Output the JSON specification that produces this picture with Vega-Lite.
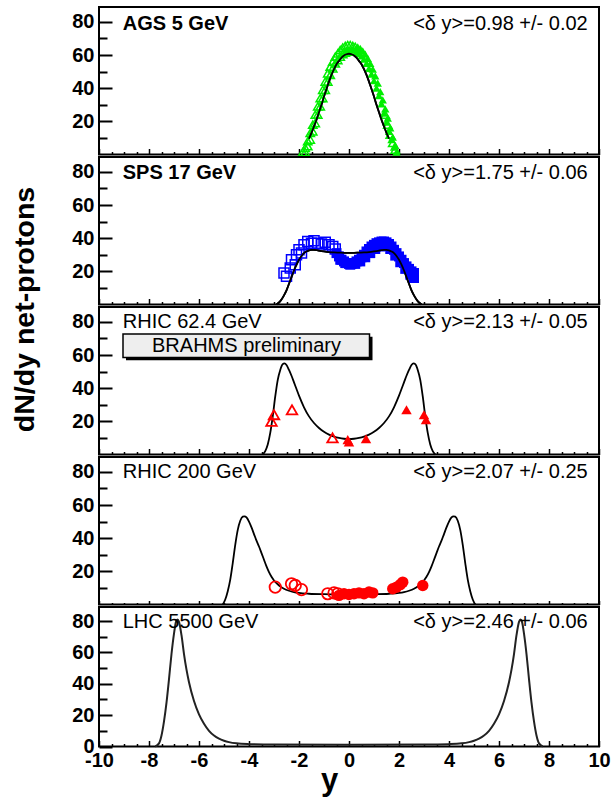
{
  "$schema": "https://vega.github.io/schema/vega-lite/v6.json",
  "background": "white",
  "padding": {"left": 8, "top": 6, "right": 5, "bottom": 2},
  "bounds": "flush",
  "spacing": 2,
  "config": {
    "font": "Liberation Sans",
    "view": {"stroke": "black", "strokeWidth": 2},
    "axis": {"labelFont": "Liberation Sans", "labelFontSize": 20, "labelFontWeight": "bold", "labelColor": "black", "labelOverlap": false, "labelBound": false, "tickCount": 200, "tickColor": "black", "tickWidth": 2, "domain": false, "grid": false, "titleColor": "black", "titleFont": "Liberation Sans"}
  },
  "datasets": {
    "labels": [
      {"panel": "AGS", "left": "AGS 5 GeV", "right": "<δ y>=0.98 +/- 0.02"},
      {"panel": "SPS", "left": "SPS 17 GeV", "right": "<δ y>=1.75 +/- 0.06"},
      {"panel": "R62", "left": "RHIC 62.4 GeV", "right": "<δ y>=2.13 +/- 0.05"},
      {"panel": "R200", "left": "RHIC 200 GeV", "right": "<δ y>=2.07 +/- 0.25"},
      {"panel": "LHC", "left": "LHC 5500 GeV", "right": "<δ y>=2.46 +/- 0.06"}
    ],
    "curves": [
      {"panel": "AGS", "x": -1.6, "y": 9.5}, {"panel": "AGS", "x": -1.5, "y": 13}, {"panel": "AGS", "x": -1.4, "y": 17}, {"panel": "AGS", "x": -1.3, "y": 21}, {"panel": "AGS", "x": -1.2, "y": 25.5}, {"panel": "AGS", "x": -1.1, "y": 30}, {"panel": "AGS", "x": -1.0, "y": 35}, {"panel": "AGS", "x": -0.9, "y": 39.5}, {"panel": "AGS", "x": -0.8, "y": 44}, {"panel": "AGS", "x": -0.7, "y": 48}, {"panel": "AGS", "x": -0.6, "y": 51.5}, {"panel": "AGS", "x": -0.5, "y": 54.5}, {"panel": "AGS", "x": -0.4, "y": 56.5}, {"panel": "AGS", "x": -0.3, "y": 58.5}, {"panel": "AGS", "x": -0.2, "y": 59.8}, {"panel": "AGS", "x": -0.1, "y": 60.5}, {"panel": "AGS", "x": 0, "y": 60.8},
      {"panel": "AGS", "x": 0.1, "y": 60.5}, {"panel": "AGS", "x": 0.2, "y": 59.8}, {"panel": "AGS", "x": 0.3, "y": 58.5}, {"panel": "AGS", "x": 0.4, "y": 56.5}, {"panel": "AGS", "x": 0.5, "y": 54.5}, {"panel": "AGS", "x": 0.6, "y": 51.5}, {"panel": "AGS", "x": 0.7, "y": 48}, {"panel": "AGS", "x": 0.8, "y": 44}, {"panel": "AGS", "x": 0.9, "y": 39.5}, {"panel": "AGS", "x": 1.0, "y": 35}, {"panel": "AGS", "x": 1.1, "y": 30}, {"panel": "AGS", "x": 1.2, "y": 25.5}, {"panel": "AGS", "x": 1.3, "y": 21}, {"panel": "AGS", "x": 1.4, "y": 17}, {"panel": "AGS", "x": 1.5, "y": 13}, {"panel": "AGS", "x": 1.6, "y": 9.5},

      {"panel": "SPS", "x": -2.9, "y": 0}, {"panel": "SPS", "x": -2.8, "y": 1.2}, {"panel": "SPS", "x": -2.7, "y": 3}, {"panel": "SPS", "x": -2.6, "y": 5.5}, {"panel": "SPS", "x": -2.5, "y": 8.5}, {"panel": "SPS", "x": -2.4, "y": 12.5}, {"panel": "SPS", "x": -2.3, "y": 16.5}, {"panel": "SPS", "x": -2.2, "y": 20.5}, {"panel": "SPS", "x": -2.1, "y": 24}, {"panel": "SPS", "x": -2.0, "y": 27}, {"panel": "SPS", "x": -1.9, "y": 29.3}, {"panel": "SPS", "x": -1.8, "y": 31}, {"panel": "SPS", "x": -1.7, "y": 32}, {"panel": "SPS", "x": -1.6, "y": 32.7}, {"panel": "SPS", "x": -1.5, "y": 33}, {"panel": "SPS", "x": -1.4, "y": 33}, {"panel": "SPS", "x": -1.3, "y": 32.8}, {"panel": "SPS", "x": -1.2, "y": 32.5}, {"panel": "SPS", "x": -1.0, "y": 32}, {"panel": "SPS", "x": -0.8, "y": 31.6}, {"panel": "SPS", "x": -0.6, "y": 31.4}, {"panel": "SPS", "x": -0.4, "y": 31.3}, {"panel": "SPS", "x": -0.2, "y": 31.2}, {"panel": "SPS", "x": 0, "y": 31.2},
      {"panel": "SPS", "x": 0.2, "y": 31.2}, {"panel": "SPS", "x": 0.4, "y": 31.3}, {"panel": "SPS", "x": 0.6, "y": 31.4}, {"panel": "SPS", "x": 0.8, "y": 31.6}, {"panel": "SPS", "x": 1.0, "y": 32}, {"panel": "SPS", "x": 1.2, "y": 32.5}, {"panel": "SPS", "x": 1.3, "y": 32.8}, {"panel": "SPS", "x": 1.4, "y": 33}, {"panel": "SPS", "x": 1.5, "y": 33}, {"panel": "SPS", "x": 1.6, "y": 32.7}, {"panel": "SPS", "x": 1.7, "y": 32}, {"panel": "SPS", "x": 1.8, "y": 31}, {"panel": "SPS", "x": 1.9, "y": 29.3}, {"panel": "SPS", "x": 2.0, "y": 27}, {"panel": "SPS", "x": 2.1, "y": 24}, {"panel": "SPS", "x": 2.2, "y": 20.5}, {"panel": "SPS", "x": 2.3, "y": 16.5}, {"panel": "SPS", "x": 2.4, "y": 12.5}, {"panel": "SPS", "x": 2.5, "y": 8.5}, {"panel": "SPS", "x": 2.6, "y": 5.5}, {"panel": "SPS", "x": 2.7, "y": 3}, {"panel": "SPS", "x": 2.8, "y": 1.2}, {"panel": "SPS", "x": 2.9, "y": 0},

      {"panel": "R62", "x": -3.45, "y": 0}, {"panel": "R62", "x": -3.35, "y": 2}, {"panel": "R62", "x": -3.25, "y": 6}, {"panel": "R62", "x": -3.15, "y": 13}, {"panel": "R62", "x": -3.05, "y": 23}, {"panel": "R62", "x": -2.95, "y": 35}, {"panel": "R62", "x": -2.85, "y": 45}, {"panel": "R62", "x": -2.75, "y": 51}, {"panel": "R62", "x": -2.65, "y": 54.5}, {"panel": "R62", "x": -2.58, "y": 55}, {"panel": "R62", "x": -2.5, "y": 54}, {"panel": "R62", "x": -2.4, "y": 51}, {"panel": "R62", "x": -2.3, "y": 47.5}, {"panel": "R62", "x": -2.2, "y": 43.5}, {"panel": "R62", "x": -2.1, "y": 39.5}, {"panel": "R62", "x": -2.0, "y": 35.5}, {"panel": "R62", "x": -1.8, "y": 28.5}, {"panel": "R62", "x": -1.6, "y": 23}, {"panel": "R62", "x": -1.4, "y": 19}, {"panel": "R62", "x": -1.2, "y": 16}, {"panel": "R62", "x": -1.0, "y": 13.7}, {"panel": "R62", "x": -0.8, "y": 12}, {"panel": "R62", "x": -0.6, "y": 10.8}, {"panel": "R62", "x": -0.4, "y": 10}, {"panel": "R62", "x": -0.2, "y": 9.5}, {"panel": "R62", "x": 0, "y": 9.3},
      {"panel": "R62", "x": 0.2, "y": 9.5}, {"panel": "R62", "x": 0.4, "y": 10}, {"panel": "R62", "x": 0.6, "y": 10.8}, {"panel": "R62", "x": 0.8, "y": 12}, {"panel": "R62", "x": 1.0, "y": 13.7}, {"panel": "R62", "x": 1.2, "y": 16}, {"panel": "R62", "x": 1.4, "y": 19}, {"panel": "R62", "x": 1.6, "y": 23}, {"panel": "R62", "x": 1.8, "y": 28.5}, {"panel": "R62", "x": 2.0, "y": 35.5}, {"panel": "R62", "x": 2.1, "y": 39.5}, {"panel": "R62", "x": 2.2, "y": 43.5}, {"panel": "R62", "x": 2.3, "y": 47.5}, {"panel": "R62", "x": 2.4, "y": 51}, {"panel": "R62", "x": 2.5, "y": 54}, {"panel": "R62", "x": 2.58, "y": 55}, {"panel": "R62", "x": 2.65, "y": 54.5}, {"panel": "R62", "x": 2.75, "y": 51}, {"panel": "R62", "x": 2.85, "y": 45}, {"panel": "R62", "x": 2.95, "y": 35}, {"panel": "R62", "x": 3.05, "y": 23}, {"panel": "R62", "x": 3.15, "y": 13}, {"panel": "R62", "x": 3.25, "y": 6}, {"panel": "R62", "x": 3.35, "y": 2}, {"panel": "R62", "x": 3.45, "y": 0},

      {"panel": "R200", "x": -5.05, "y": 0}, {"panel": "R200", "x": -4.95, "y": 3}, {"panel": "R200", "x": -4.85, "y": 8}, {"panel": "R200", "x": -4.75, "y": 15}, {"panel": "R200", "x": -4.65, "y": 25}, {"panel": "R200", "x": -4.55, "y": 36}, {"panel": "R200", "x": -4.45, "y": 45}, {"panel": "R200", "x": -4.35, "y": 50.5}, {"panel": "R200", "x": -4.25, "y": 53}, {"panel": "R200", "x": -4.18, "y": 53.2}, {"panel": "R200", "x": -4.1, "y": 52.5}, {"panel": "R200", "x": -4.0, "y": 50}, {"panel": "R200", "x": -3.9, "y": 46.5}, {"panel": "R200", "x": -3.8, "y": 42.5}, {"panel": "R200", "x": -3.7, "y": 38.5}, {"panel": "R200", "x": -3.6, "y": 35}, {"panel": "R200", "x": -3.5, "y": 31}, {"panel": "R200", "x": -3.4, "y": 27}, {"panel": "R200", "x": -3.3, "y": 23}, {"panel": "R200", "x": -3.2, "y": 19.5}, {"panel": "R200", "x": -3.1, "y": 16.7}, {"panel": "R200", "x": -3.0, "y": 14.5}, {"panel": "R200", "x": -2.8, "y": 11.5}, {"panel": "R200", "x": -2.6, "y": 9.5}, {"panel": "R200", "x": -2.4, "y": 8.3}, {"panel": "R200", "x": -2.2, "y": 7.5}, {"panel": "R200", "x": -2.0, "y": 7}, {"panel": "R200", "x": -1.6, "y": 6.5}, {"panel": "R200", "x": -1.0, "y": 6.2}, {"panel": "R200", "x": -0.5, "y": 6.1}, {"panel": "R200", "x": 0, "y": 6},
      {"panel": "R200", "x": 0.5, "y": 6.1}, {"panel": "R200", "x": 1.0, "y": 6.2}, {"panel": "R200", "x": 1.6, "y": 6.5}, {"panel": "R200", "x": 2.0, "y": 7}, {"panel": "R200", "x": 2.2, "y": 7.5}, {"panel": "R200", "x": 2.4, "y": 8.3}, {"panel": "R200", "x": 2.6, "y": 9.5}, {"panel": "R200", "x": 2.8, "y": 11.5}, {"panel": "R200", "x": 3.0, "y": 14.5}, {"panel": "R200", "x": 3.1, "y": 16.7}, {"panel": "R200", "x": 3.2, "y": 19.5}, {"panel": "R200", "x": 3.3, "y": 23}, {"panel": "R200", "x": 3.4, "y": 27}, {"panel": "R200", "x": 3.5, "y": 31}, {"panel": "R200", "x": 3.6, "y": 35}, {"panel": "R200", "x": 3.7, "y": 38.5}, {"panel": "R200", "x": 3.8, "y": 42.5}, {"panel": "R200", "x": 3.9, "y": 46.5}, {"panel": "R200", "x": 4.0, "y": 50}, {"panel": "R200", "x": 4.1, "y": 52.5}, {"panel": "R200", "x": 4.18, "y": 53.2}, {"panel": "R200", "x": 4.25, "y": 53}, {"panel": "R200", "x": 4.35, "y": 50.5}, {"panel": "R200", "x": 4.45, "y": 45}, {"panel": "R200", "x": 4.55, "y": 36}, {"panel": "R200", "x": 4.65, "y": 25}, {"panel": "R200", "x": 4.75, "y": 15}, {"panel": "R200", "x": 4.85, "y": 8}, {"panel": "R200", "x": 4.95, "y": 3}, {"panel": "R200", "x": 5.05, "y": 0},

      {"panel": "LHC", "x": -7.75, "y": 0}, {"panel": "LHC", "x": -7.6, "y": 2}, {"panel": "LHC", "x": -7.5, "y": 7}, {"panel": "LHC", "x": -7.4, "y": 16}, {"panel": "LHC", "x": -7.3, "y": 28}, {"panel": "LHC", "x": -7.2, "y": 43}, {"panel": "LHC", "x": -7.1, "y": 59}, {"panel": "LHC", "x": -7.0, "y": 72}, {"panel": "LHC", "x": -6.92, "y": 79.5}, {"panel": "LHC", "x": -6.86, "y": 81}, {"panel": "LHC", "x": -6.8, "y": 79.5}, {"panel": "LHC", "x": -6.7, "y": 71}, {"panel": "LHC", "x": -6.6, "y": 59}, {"panel": "LHC", "x": -6.5, "y": 49}, {"panel": "LHC", "x": -6.4, "y": 41}, {"panel": "LHC", "x": -6.2, "y": 29}, {"panel": "LHC", "x": -6.0, "y": 20.5}, {"panel": "LHC", "x": -5.8, "y": 14.5}, {"panel": "LHC", "x": -5.6, "y": 10}, {"panel": "LHC", "x": -5.4, "y": 7}, {"panel": "LHC", "x": -5.2, "y": 5}, {"panel": "LHC", "x": -5.0, "y": 3.7}, {"panel": "LHC", "x": -4.8, "y": 2.8}, {"panel": "LHC", "x": -4.5, "y": 2}, {"panel": "LHC", "x": -4.0, "y": 1.5}, {"panel": "LHC", "x": -3.0, "y": 1.2}, {"panel": "LHC", "x": 0, "y": 1.1},
      {"panel": "LHC", "x": 3.0, "y": 1.2}, {"panel": "LHC", "x": 4.0, "y": 1.5}, {"panel": "LHC", "x": 4.5, "y": 2}, {"panel": "LHC", "x": 4.8, "y": 2.8}, {"panel": "LHC", "x": 5.0, "y": 3.7}, {"panel": "LHC", "x": 5.2, "y": 5}, {"panel": "LHC", "x": 5.4, "y": 7}, {"panel": "LHC", "x": 5.6, "y": 10}, {"panel": "LHC", "x": 5.8, "y": 14.5}, {"panel": "LHC", "x": 6.0, "y": 20.5}, {"panel": "LHC", "x": 6.2, "y": 29}, {"panel": "LHC", "x": 6.4, "y": 41}, {"panel": "LHC", "x": 6.5, "y": 49}, {"panel": "LHC", "x": 6.6, "y": 59}, {"panel": "LHC", "x": 6.7, "y": 71}, {"panel": "LHC", "x": 6.8, "y": 79.5}, {"panel": "LHC", "x": 6.86, "y": 81}, {"panel": "LHC", "x": 6.92, "y": 79.5}, {"panel": "LHC", "x": 7.0, "y": 72}, {"panel": "LHC", "x": 7.1, "y": 59}, {"panel": "LHC", "x": 7.2, "y": 43}, {"panel": "LHC", "x": 7.3, "y": 28}, {"panel": "LHC", "x": 7.4, "y": 16}, {"panel": "LHC", "x": 7.5, "y": 7}, {"panel": "LHC", "x": 7.6, "y": 2}, {"panel": "LHC", "x": 7.75, "y": 0}
    ],
    "points": [
      {"panel": "AGS", "kind": "open", "x": -1.85, "y": 1.5}, {"panel": "AGS", "kind": "open", "x": -1.75, "y": 4}, {"panel": "AGS", "kind": "open", "x": -1.65, "y": 8}, {"panel": "AGS", "kind": "open", "x": -1.55, "y": 13}, {"panel": "AGS", "kind": "open", "x": -1.45, "y": 18}, {"panel": "AGS", "kind": "open", "x": -1.35, "y": 24}, {"panel": "AGS", "kind": "open", "x": -1.25, "y": 29}, {"panel": "AGS", "kind": "open", "x": -1.15, "y": 34}, {"panel": "AGS", "kind": "open", "x": -1.05, "y": 39}, {"panel": "AGS", "kind": "open", "x": -0.95, "y": 44}, {"panel": "AGS", "kind": "open", "x": -0.85, "y": 49}, {"panel": "AGS", "kind": "open", "x": -0.75, "y": 53}, {"panel": "AGS", "kind": "open", "x": -0.65, "y": 56}, {"panel": "AGS", "kind": "open", "x": -0.55, "y": 59}, {"panel": "AGS", "kind": "open", "x": -0.45, "y": 61}, {"panel": "AGS", "kind": "open", "x": -0.35, "y": 63}, {"panel": "AGS", "kind": "open", "x": -0.25, "y": 64.5}, {"panel": "AGS", "kind": "open", "x": -0.15, "y": 65.5}, {"panel": "AGS", "kind": "open", "x": -0.05, "y": 66}, {"panel": "AGS", "kind": "open", "x": 0.05, "y": 66}, {"panel": "AGS", "kind": "open", "x": 0.15, "y": 65.5}, {"panel": "AGS", "kind": "open", "x": 0.25, "y": 65},
      {"panel": "AGS", "kind": "open", "x": -1.75, "y": 1.5}, {"panel": "AGS", "kind": "open", "x": -1.65, "y": 5}, {"panel": "AGS", "kind": "open", "x": -1.55, "y": 9}, {"panel": "AGS", "kind": "open", "x": -1.45, "y": 14}, {"panel": "AGS", "kind": "open", "x": -1.35, "y": 19}, {"panel": "AGS", "kind": "open", "x": -1.25, "y": 24}, {"panel": "AGS", "kind": "open", "x": -1.15, "y": 29}, {"panel": "AGS", "kind": "open", "x": -1.05, "y": 34}, {"panel": "AGS", "kind": "open", "x": -0.95, "y": 39}, {"panel": "AGS", "kind": "open", "x": -0.85, "y": 44}, {"panel": "AGS", "kind": "open", "x": -0.75, "y": 48}, {"panel": "AGS", "kind": "open", "x": -0.65, "y": 52}, {"panel": "AGS", "kind": "open", "x": -0.55, "y": 55}, {"panel": "AGS", "kind": "open", "x": -0.45, "y": 57}, {"panel": "AGS", "kind": "open", "x": -0.35, "y": 59}, {"panel": "AGS", "kind": "open", "x": -0.25, "y": 60.5}, {"panel": "AGS", "kind": "open", "x": -0.15, "y": 61.5}, {"panel": "AGS", "kind": "open", "x": -0.05, "y": 62},
      {"panel": "AGS", "kind": "open", "x": 1.45, "y": 24}, {"panel": "AGS", "kind": "open", "x": 1.55, "y": 18}, {"panel": "AGS", "kind": "open", "x": 1.65, "y": 12}, {"panel": "AGS", "kind": "open", "x": 1.75, "y": 7}, {"panel": "AGS", "kind": "open", "x": 1.85, "y": 3},
      {"panel": "AGS", "kind": "filled", "x": -0.1, "y": 63}, {"panel": "AGS", "kind": "filled", "x": 0, "y": 63.5}, {"panel": "AGS", "kind": "filled", "x": 0.1, "y": 63.5}, {"panel": "AGS", "kind": "filled", "x": 0.2, "y": 63}, {"panel": "AGS", "kind": "filled", "x": 0.3, "y": 62}, {"panel": "AGS", "kind": "filled", "x": 0.4, "y": 61}, {"panel": "AGS", "kind": "filled", "x": 0.5, "y": 59.5}, {"panel": "AGS", "kind": "filled", "x": 0.6, "y": 57.5}, {"panel": "AGS", "kind": "filled", "x": 0.7, "y": 55}, {"panel": "AGS", "kind": "filled", "x": 0.8, "y": 52}, {"panel": "AGS", "kind": "filled", "x": 0.9, "y": 48.5}, {"panel": "AGS", "kind": "filled", "x": 1.0, "y": 44.5}, {"panel": "AGS", "kind": "filled", "x": 1.1, "y": 40}, {"panel": "AGS", "kind": "filled", "x": 1.2, "y": 35.5}, {"panel": "AGS", "kind": "filled", "x": 1.3, "y": 30.5}, {"panel": "AGS", "kind": "filled", "x": 1.4, "y": 25}, {"panel": "AGS", "kind": "filled", "x": 1.5, "y": 19.5}, {"panel": "AGS", "kind": "filled", "x": 1.6, "y": 14}, {"panel": "AGS", "kind": "filled", "x": 1.7, "y": 9}, {"panel": "AGS", "kind": "filled", "x": 1.8, "y": 4.5}, {"panel": "AGS", "kind": "filled", "x": 1.9, "y": 1.5},
      {"panel": "AGS", "kind": "filled", "x": 0.35, "y": 65}, {"panel": "AGS", "kind": "filled", "x": 0.45, "y": 64}, {"panel": "AGS", "kind": "filled", "x": 0.55, "y": 62.5}, {"panel": "AGS", "kind": "filled", "x": 0.65, "y": 60.5}, {"panel": "AGS", "kind": "filled", "x": 0.75, "y": 58}, {"panel": "AGS", "kind": "filled", "x": 0.85, "y": 55}, {"panel": "AGS", "kind": "filled", "x": 0.95, "y": 51.5}, {"panel": "AGS", "kind": "filled", "x": 1.05, "y": 47.5}, {"panel": "AGS", "kind": "filled", "x": 1.15, "y": 43}, {"panel": "AGS", "kind": "filled", "x": 1.25, "y": 38}, {"panel": "AGS", "kind": "filled", "x": 1.35, "y": 33}, {"panel": "AGS", "kind": "filled", "x": 1.45, "y": 27.5}, {"panel": "AGS", "kind": "filled", "x": 1.55, "y": 22}, {"panel": "AGS", "kind": "filled", "x": 1.65, "y": 16}, {"panel": "AGS", "kind": "filled", "x": 1.75, "y": 10.5}, {"panel": "AGS", "kind": "filled", "x": 1.85, "y": 5.5},

      {"panel": "SPS", "kind": "open", "x": -2.6, "y": 19}, {"panel": "SPS", "kind": "open", "x": -2.5, "y": 17}, {"panel": "SPS", "kind": "open", "x": -2.35, "y": 22}, {"panel": "SPS", "kind": "open", "x": -2.3, "y": 27}, {"panel": "SPS", "kind": "open", "x": -2.15, "y": 24}, {"panel": "SPS", "kind": "open", "x": -2.1, "y": 30}, {"panel": "SPS", "kind": "open", "x": -2.0, "y": 33}, {"panel": "SPS", "kind": "open", "x": -1.9, "y": 31}, {"panel": "SPS", "kind": "open", "x": -1.8, "y": 36}, {"panel": "SPS", "kind": "open", "x": -1.65, "y": 38}, {"panel": "SPS", "kind": "open", "x": -1.5, "y": 37}, {"panel": "SPS", "kind": "open", "x": -1.4, "y": 38.5}, {"panel": "SPS", "kind": "open", "x": -1.25, "y": 37}, {"panel": "SPS", "kind": "open", "x": -1.1, "y": 36.5}, {"panel": "SPS", "kind": "open", "x": -0.95, "y": 37.5}, {"panel": "SPS", "kind": "open", "x": -0.8, "y": 36}, {"panel": "SPS", "kind": "open", "x": -0.65, "y": 35}, {"panel": "SPS", "kind": "open", "x": -0.55, "y": 33.5},
      {"panel": "SPS", "kind": "filled", "x": -0.5, "y": 31}, {"panel": "SPS", "kind": "filled", "x": -0.4, "y": 29}, {"panel": "SPS", "kind": "filled", "x": -0.3, "y": 27}, {"panel": "SPS", "kind": "filled", "x": -0.2, "y": 26}, {"panel": "SPS", "kind": "filled", "x": -0.1, "y": 25}, {"panel": "SPS", "kind": "filled", "x": 0, "y": 24.5}, {"panel": "SPS", "kind": "filled", "x": 0.1, "y": 24.5}, {"panel": "SPS", "kind": "filled", "x": 0.2, "y": 25}, {"panel": "SPS", "kind": "filled", "x": 0.3, "y": 26}, {"panel": "SPS", "kind": "filled", "x": 0.4, "y": 27}, {"panel": "SPS", "kind": "filled", "x": 0.5, "y": 28.5}, {"panel": "SPS", "kind": "filled", "x": 0.6, "y": 30}, {"panel": "SPS", "kind": "filled", "x": 0.7, "y": 32}, {"panel": "SPS", "kind": "filled", "x": 0.8, "y": 33.5}, {"panel": "SPS", "kind": "filled", "x": 0.9, "y": 35}, {"panel": "SPS", "kind": "filled", "x": 1.0, "y": 36}, {"panel": "SPS", "kind": "filled", "x": 1.1, "y": 37}, {"panel": "SPS", "kind": "filled", "x": 1.2, "y": 37.5}, {"panel": "SPS", "kind": "filled", "x": 1.3, "y": 38}, {"panel": "SPS", "kind": "filled", "x": 1.4, "y": 38}, {"panel": "SPS", "kind": "filled", "x": 1.5, "y": 37.5}, {"panel": "SPS", "kind": "filled", "x": 1.6, "y": 36.5}, {"panel": "SPS", "kind": "filled", "x": 1.7, "y": 35}, {"panel": "SPS", "kind": "filled", "x": 1.8, "y": 33}, {"panel": "SPS", "kind": "filled", "x": 1.9, "y": 31}, {"panel": "SPS", "kind": "filled", "x": 2.0, "y": 29}, {"panel": "SPS", "kind": "filled", "x": 2.1, "y": 27}, {"panel": "SPS", "kind": "filled", "x": 2.2, "y": 25}, {"panel": "SPS", "kind": "filled", "x": 2.3, "y": 23}, {"panel": "SPS", "kind": "filled", "x": 2.4, "y": 21.5}, {"panel": "SPS", "kind": "filled", "x": 2.5, "y": 20}, {"panel": "SPS", "kind": "filled", "x": 2.6, "y": 19},
      {"panel": "SPS", "kind": "filled", "x": -0.35, "y": 27}, {"panel": "SPS", "kind": "filled", "x": -0.15, "y": 25}, {"panel": "SPS", "kind": "filled", "x": 0.05, "y": 24}, {"panel": "SPS", "kind": "filled", "x": 0.25, "y": 24.5}, {"panel": "SPS", "kind": "filled", "x": 0.45, "y": 26}, {"panel": "SPS", "kind": "filled", "x": 0.65, "y": 28.5}, {"panel": "SPS", "kind": "filled", "x": 0.85, "y": 31}, {"panel": "SPS", "kind": "filled", "x": 1.05, "y": 33.5}, {"panel": "SPS", "kind": "filled", "x": 1.25, "y": 35}, {"panel": "SPS", "kind": "filled", "x": 1.45, "y": 35.5}, {"panel": "SPS", "kind": "filled", "x": 1.65, "y": 33.5}, {"panel": "SPS", "kind": "filled", "x": 1.85, "y": 29.5}, {"panel": "SPS", "kind": "filled", "x": 2.05, "y": 25.5}, {"panel": "SPS", "kind": "filled", "x": 2.25, "y": 21.5}, {"panel": "SPS", "kind": "filled", "x": 2.45, "y": 18}, {"panel": "SPS", "kind": "filled", "x": 2.6, "y": 16},

      {"panel": "R62", "kind": "open", "x": -3.1, "y": 20}, {"panel": "R62", "kind": "open", "x": -3.0, "y": 24}, {"panel": "R62", "kind": "open", "x": -2.28, "y": 27}, {"panel": "R62", "kind": "open", "x": -0.66, "y": 10},
      {"panel": "R62", "kind": "filled", "x": -0.05, "y": 9}, {"panel": "R62", "kind": "filled", "x": 0.0, "y": 7.5}, {"panel": "R62", "kind": "filled", "x": 0.68, "y": 9.5}, {"panel": "R62", "kind": "filled", "x": 2.3, "y": 27}, {"panel": "R62", "kind": "filled", "x": 3.0, "y": 24}, {"panel": "R62", "kind": "filled", "x": 3.08, "y": 21},

      {"panel": "R200", "kind": "open", "x": -2.95, "y": 10.5}, {"panel": "R200", "kind": "open", "x": -2.3, "y": 12.5}, {"panel": "R200", "kind": "open", "x": -2.15, "y": 11.5}, {"panel": "R200", "kind": "open", "x": -1.9, "y": 9}, {"panel": "R200", "kind": "open", "x": -0.85, "y": 6.5}, {"panel": "R200", "kind": "open", "x": -0.6, "y": 7}, {"panel": "R200", "kind": "open", "x": -0.45, "y": 6.5},
      {"panel": "R200", "kind": "filled", "x": -0.4, "y": 5.5}, {"panel": "R200", "kind": "filled", "x": -0.2, "y": 6.5}, {"panel": "R200", "kind": "filled", "x": 0, "y": 6}, {"panel": "R200", "kind": "filled", "x": 0.2, "y": 6.5}, {"panel": "R200", "kind": "filled", "x": 0.4, "y": 7}, {"panel": "R200", "kind": "filled", "x": 0.6, "y": 6.5}, {"panel": "R200", "kind": "filled", "x": 0.8, "y": 7.5}, {"panel": "R200", "kind": "filled", "x": 0.95, "y": 7}, {"panel": "R200", "kind": "filled", "x": 1.75, "y": 9.5}, {"panel": "R200", "kind": "filled", "x": 1.9, "y": 10.5}, {"panel": "R200", "kind": "filled", "x": 2.05, "y": 12}, {"panel": "R200", "kind": "filled", "x": 2.15, "y": 13.5}, {"panel": "R200", "kind": "filled", "x": 2.95, "y": 11.5}
    ]
  },
  "vconcat": [
    {
      "width": 500, "height": 147.5,
      "layer": [
        {"data": {"name": "curves"}, "transform": [{"filter": "datum.panel == 'AGS'"}],
         "mark": {"type": "line", "color": "black", "strokeWidth": 1.8, "interpolate": "monotone"},
         "encoding": {
           "x": {"field": "x", "type": "quantitative", "scale": {"domain": [-10, 10], "nice": false, "zero": false},
                 "axis": {"values": [-10,-9.5,-9,-8.5,-8,-7.5,-7,-6.5,-6,-5.5,-5,-4.5,-4,-3.5,-3,-2.5,-2,-1.5,-1,-0.5,0,0.5,1,1.5,2,2.5,3,3.5,4,4.5,5,5.5,6,6.5,7,7.5,8,8.5,9,9.5,10], "tickCount": 200, "labels": false, "title": null, "tickWidth": 1.5, "tickSize": {"condition": {"test": "abs(datum.value % 2) < 0.01", "value": -6}, "value": -3}}},
           "y": {"field": "y", "type": "quantitative", "scale": {"domain": [0, 89], "nice": false},
                 "axis": {"values": [10,20,30,40,50,60,70,80], "tickCount": 200, "labelOverlap": false, "labelExpr": "datum.value % 20 == 0 ? toString(datum.value) : ''", "title": null, "labelPadding": 18, "tickSize": {"condition": {"test": "datum.value % 20 == 0", "value": -13}, "value": -8}}}
         }},
        {"data": {"name": "points"}, "transform": [{"filter": "datum.panel == 'AGS' && datum.kind == 'open'"}],
         "mark": {"type": "point", "shape": "triangle-up", "filled": false, "color": "#00ee00", "strokeWidth": 1.5, "size": 70, "opacity": 1},
         "encoding": {"x": {"field": "x", "type": "quantitative", "scale": {"domain": [-10, 10], "nice": false, "zero": false}}, "y": {"field": "y", "type": "quantitative", "scale": {"domain": [0, 89], "nice": false}}}},
        {"data": {"name": "points"}, "transform": [{"filter": "datum.panel == 'AGS' && datum.kind == 'filled'"}],
         "mark": {"type": "point", "shape": "triangle-up", "filled": true, "color": "#00ee00", "size": 70, "opacity": 1},
         "encoding": {"x": {"field": "x", "type": "quantitative", "scale": {"domain": [-10, 10], "nice": false, "zero": false}}, "y": {"field": "y", "type": "quantitative", "scale": {"domain": [0, 89], "nice": false}}}},
        {"data": {"name": "curves"}, "transform": [{"filter": "datum.panel == 'AGS'"}],
         "mark": {"type": "line", "color": "black", "strokeWidth": 1.8, "interpolate": "monotone"},
         "encoding": {"x": {"field": "x", "type": "quantitative", "scale": {"domain": [-10, 10], "nice": false, "zero": false}}, "y": {"field": "y", "type": "quantitative", "scale": {"domain": [0, 89], "nice": false}}}},
        {"data": {"name": "labels"}, "transform": [{"filter": "datum.panel == 'AGS'"}],
         "mark": {"type": "text", "align": "left", "baseline": "middle", "fontSize": 20, "fontWeight": "bold", "color": "black"},
         "encoding": {"x": {"datum": -9.05, "type": "quantitative", "scale": {"domain": [-10, 10], "nice": false, "zero": false}}, "y": {"datum": 79, "type": "quantitative", "scale": {"domain": [0, 89], "nice": false}}, "text": {"field": "left"}}},
        {"data": {"name": "labels"}, "transform": [{"filter": "datum.panel == 'AGS'"}],
         "mark": {"type": "text", "align": "right", "baseline": "middle", "fontSize": 20, "color": "black"},
         "encoding": {"x": {"datum": 9.55, "type": "quantitative", "scale": {"domain": [-10, 10], "nice": false, "zero": false}}, "y": {"datum": 79, "type": "quantitative", "scale": {"domain": [0, 89], "nice": false}}, "text": {"field": "right"}}}
      ]
    },
    {
      "width": 500, "height": 147.5,
      "layer": [
        {"data": {"name": "curves"}, "transform": [{"filter": "datum.panel == 'SPS'"}],
         "mark": {"type": "line", "color": "black", "strokeWidth": 1.8, "interpolate": "monotone"},
         "encoding": {
           "x": {"field": "x", "type": "quantitative", "scale": {"domain": [-10, 10], "nice": false, "zero": false},
                 "axis": {"values": [-10,-9.5,-9,-8.5,-8,-7.5,-7,-6.5,-6,-5.5,-5,-4.5,-4,-3.5,-3,-2.5,-2,-1.5,-1,-0.5,0,0.5,1,1.5,2,2.5,3,3.5,4,4.5,5,5.5,6,6.5,7,7.5,8,8.5,9,9.5,10], "tickCount": 200, "labels": false, "title": null, "tickWidth": 1.5, "tickSize": {"condition": {"test": "abs(datum.value % 2) < 0.01", "value": -6}, "value": -3}}},
           "y": {"field": "y", "type": "quantitative", "scale": {"domain": [0, 89], "nice": false},
                 "axis": {"values": [10,20,30,40,50,60,70,80], "tickCount": 200, "labelOverlap": false, "labelExpr": "datum.value % 20 == 0 ? toString(datum.value) : ''", "title": null, "labelPadding": 18, "tickSize": {"condition": {"test": "datum.value % 20 == 0", "value": -13}, "value": -8}}}
         }},
        {"data": {"name": "points"}, "transform": [{"filter": "datum.panel == 'SPS' && datum.kind == 'open'"}],
         "mark": {"type": "point", "shape": "square", "filled": false, "color": "#0000ff", "strokeWidth": 1.5, "size": 100, "opacity": 1},
         "encoding": {"x": {"field": "x", "type": "quantitative", "scale": {"domain": [-10, 10], "nice": false, "zero": false}}, "y": {"field": "y", "type": "quantitative", "scale": {"domain": [0, 89], "nice": false}}}},
        {"data": {"name": "points"}, "transform": [{"filter": "datum.panel == 'SPS' && datum.kind == 'filled'"}],
         "mark": {"type": "point", "shape": "square", "filled": true, "color": "#0000ff", "size": 100, "opacity": 1},
         "encoding": {"x": {"field": "x", "type": "quantitative", "scale": {"domain": [-10, 10], "nice": false, "zero": false}}, "y": {"field": "y", "type": "quantitative", "scale": {"domain": [0, 89], "nice": false}}}},
        {"data": {"name": "curves"}, "transform": [{"filter": "datum.panel == 'SPS'"}],
         "mark": {"type": "line", "color": "black", "strokeWidth": 1.8, "interpolate": "monotone"},
         "encoding": {"x": {"field": "x", "type": "quantitative", "scale": {"domain": [-10, 10], "nice": false, "zero": false}}, "y": {"field": "y", "type": "quantitative", "scale": {"domain": [0, 89], "nice": false}}}},
        {"data": {"name": "labels"}, "transform": [{"filter": "datum.panel == 'SPS'"}],
         "mark": {"type": "text", "align": "left", "baseline": "middle", "fontSize": 20, "fontWeight": "bold", "color": "black"},
         "encoding": {"x": {"datum": -9.05, "type": "quantitative", "scale": {"domain": [-10, 10], "nice": false, "zero": false}}, "y": {"datum": 79.5, "type": "quantitative", "scale": {"domain": [0, 89], "nice": false}}, "text": {"field": "left"}}},
        {"data": {"name": "labels"}, "transform": [{"filter": "datum.panel == 'SPS'"}],
         "mark": {"type": "text", "align": "right", "baseline": "middle", "fontSize": 20, "color": "black"},
         "encoding": {"x": {"datum": 9.55, "type": "quantitative", "scale": {"domain": [-10, 10], "nice": false, "zero": false}}, "y": {"datum": 79.5, "type": "quantitative", "scale": {"domain": [0, 89], "nice": false}}, "text": {"field": "right"}}}
      ]
    },
    {
      "width": 500, "height": 147.5,
      "layer": [
        {"data": {"name": "curves"}, "transform": [{"filter": "datum.panel == 'R62'"}],
         "mark": {"type": "line", "color": "black", "strokeWidth": 1.8, "interpolate": "monotone"},
         "encoding": {
           "x": {"field": "x", "type": "quantitative", "scale": {"domain": [-10, 10], "nice": false, "zero": false},
                 "axis": {"values": [-10,-9.5,-9,-8.5,-8,-7.5,-7,-6.5,-6,-5.5,-5,-4.5,-4,-3.5,-3,-2.5,-2,-1.5,-1,-0.5,0,0.5,1,1.5,2,2.5,3,3.5,4,4.5,5,5.5,6,6.5,7,7.5,8,8.5,9,9.5,10], "tickCount": 200, "labels": false, "title": null, "tickWidth": 1.5, "tickSize": {"condition": {"test": "abs(datum.value % 2) < 0.01", "value": -6}, "value": -3}}},
           "y": {"field": "y", "type": "quantitative", "scale": {"domain": [0, 89], "nice": false},
                 "axis": {"values": [10,20,30,40,50,60,70,80], "tickCount": 200, "labelOverlap": false, "labelExpr": "datum.value % 20 == 0 ? toString(datum.value) : ''", "labelPadding": 18, "tickSize": {"condition": {"test": "datum.value % 20 == 0", "value": -13}, "value": -8},
                          "title": "dN/dy net-protons", "titleFontSize": 28.5, "titleFontWeight": "bold", "titleAngle": -90, "titleAlign": "center", "titleBaseline": "middle", "titleX": -75, "titleY": 2}}
         }},
        {"data": {"values": [{"note": "BRAHMS preliminary"}]},
         "mark": {"type": "rect", "color": "black"},
         "encoding": {"x": {"datum": -8.92, "type": "quantitative", "scale": {"domain": [-10, 10], "nice": false, "zero": false}}, "x2": {"datum": 0.94}, "y": {"datum": 71, "type": "quantitative", "scale": {"domain": [0, 89], "nice": false}}, "y2": {"datum": 56.8}}},
        {"data": {"values": [{"note": "BRAHMS preliminary"}]},
         "mark": {"type": "rect", "fill": "#eeeeee", "stroke": "black", "strokeWidth": 1.5},
         "encoding": {"x": {"datum": -9.04, "type": "quantitative", "scale": {"domain": [-10, 10], "nice": false, "zero": false}}, "x2": {"datum": 0.82}, "y": {"datum": 72.7, "type": "quantitative", "scale": {"domain": [0, 89], "nice": false}}, "y2": {"datum": 58.6}}},
        {"data": {"values": [{"note": "BRAHMS preliminary"}]},
         "mark": {"type": "text", "align": "center", "baseline": "middle", "fontSize": 20, "color": "black"},
         "encoding": {"x": {"datum": -4.1, "type": "quantitative", "scale": {"domain": [-10, 10], "nice": false, "zero": false}}, "y": {"datum": 65.3, "type": "quantitative", "scale": {"domain": [0, 89], "nice": false}}, "text": {"field": "note"}}},
        {"data": {"name": "points"}, "transform": [{"filter": "datum.panel == 'R62' && datum.kind == 'open'"}],
         "mark": {"type": "point", "shape": "triangle-up", "filled": false, "color": "#ff0000", "strokeWidth": 1.8, "size": 110, "opacity": 1},
         "encoding": {"x": {"field": "x", "type": "quantitative", "scale": {"domain": [-10, 10], "nice": false, "zero": false}}, "y": {"field": "y", "type": "quantitative", "scale": {"domain": [0, 89], "nice": false}}}},
        {"data": {"name": "points"}, "transform": [{"filter": "datum.panel == 'R62' && datum.kind == 'filled'"}],
         "mark": {"type": "point", "shape": "triangle-up", "filled": true, "color": "#ff0000", "size": 110, "opacity": 1},
         "encoding": {"x": {"field": "x", "type": "quantitative", "scale": {"domain": [-10, 10], "nice": false, "zero": false}}, "y": {"field": "y", "type": "quantitative", "scale": {"domain": [0, 89], "nice": false}}}},
        {"data": {"name": "labels"}, "transform": [{"filter": "datum.panel == 'R62'"}],
         "mark": {"type": "text", "align": "left", "baseline": "middle", "fontSize": 20, "color": "black"},
         "encoding": {"x": {"datum": -9.05, "type": "quantitative", "scale": {"domain": [-10, 10], "nice": false, "zero": false}}, "y": {"datum": 79.7, "type": "quantitative", "scale": {"domain": [0, 89], "nice": false}}, "text": {"field": "left"}}},
        {"data": {"name": "labels"}, "transform": [{"filter": "datum.panel == 'R62'"}],
         "mark": {"type": "text", "align": "right", "baseline": "middle", "fontSize": 20, "color": "black"},
         "encoding": {"x": {"datum": 9.55, "type": "quantitative", "scale": {"domain": [-10, 10], "nice": false, "zero": false}}, "y": {"datum": 79.7, "type": "quantitative", "scale": {"domain": [0, 89], "nice": false}}, "text": {"field": "right"}}}
      ]
    },
    {
      "width": 500, "height": 147.5,
      "layer": [
        {"data": {"name": "curves"}, "transform": [{"filter": "datum.panel == 'R200'"}],
         "mark": {"type": "line", "color": "black", "strokeWidth": 1.8, "interpolate": "monotone"},
         "encoding": {
           "x": {"field": "x", "type": "quantitative", "scale": {"domain": [-10, 10], "nice": false, "zero": false},
                 "axis": {"values": [-10,-9.5,-9,-8.5,-8,-7.5,-7,-6.5,-6,-5.5,-5,-4.5,-4,-3.5,-3,-2.5,-2,-1.5,-1,-0.5,0,0.5,1,1.5,2,2.5,3,3.5,4,4.5,5,5.5,6,6.5,7,7.5,8,8.5,9,9.5,10], "tickCount": 200, "labels": false, "title": null, "tickWidth": 1.5, "tickSize": {"condition": {"test": "abs(datum.value % 2) < 0.01", "value": -4}, "value": -2}}},
           "y": {"field": "y", "type": "quantitative", "scale": {"domain": [0, 89], "nice": false},
                 "axis": {"values": [10,20,30,40,50,60,70,80], "tickCount": 200, "labelOverlap": false, "labelExpr": "datum.value % 20 == 0 ? toString(datum.value) : ''", "title": null, "labelPadding": 18, "tickSize": {"condition": {"test": "datum.value % 20 == 0", "value": -13}, "value": -8}}}
         }},
        {"data": {"name": "points"}, "transform": [{"filter": "datum.panel == 'R200' && datum.kind == 'open'"}],
         "mark": {"type": "point", "shape": "circle", "filled": false, "color": "#ff0000", "strokeWidth": 1.8, "size": 130, "opacity": 1},
         "encoding": {"x": {"field": "x", "type": "quantitative", "scale": {"domain": [-10, 10], "nice": false, "zero": false}}, "y": {"field": "y", "type": "quantitative", "scale": {"domain": [0, 89], "nice": false}}}},
        {"data": {"name": "points"}, "transform": [{"filter": "datum.panel == 'R200' && datum.kind == 'filled'"}],
         "mark": {"type": "point", "shape": "circle", "filled": true, "color": "#ff0000", "size": 130, "opacity": 1},
         "encoding": {"x": {"field": "x", "type": "quantitative", "scale": {"domain": [-10, 10], "nice": false, "zero": false}}, "y": {"field": "y", "type": "quantitative", "scale": {"domain": [0, 89], "nice": false}}}},
        {"data": {"name": "labels"}, "transform": [{"filter": "datum.panel == 'R200'"}],
         "mark": {"type": "text", "align": "left", "baseline": "middle", "fontSize": 20, "color": "black"},
         "encoding": {"x": {"datum": -9.05, "type": "quantitative", "scale": {"domain": [-10, 10], "nice": false, "zero": false}}, "y": {"datum": 79.7, "type": "quantitative", "scale": {"domain": [0, 89], "nice": false}}, "text": {"field": "left"}}},
        {"data": {"name": "labels"}, "transform": [{"filter": "datum.panel == 'R200'"}],
         "mark": {"type": "text", "align": "right", "baseline": "middle", "fontSize": 20, "color": "black"},
         "encoding": {"x": {"datum": 9.55, "type": "quantitative", "scale": {"domain": [-10, 10], "nice": false, "zero": false}}, "y": {"datum": 79.7, "type": "quantitative", "scale": {"domain": [0, 89], "nice": false}}, "text": {"field": "right"}}}
      ]
    },
    {
      "width": 500, "height": 139.5,
      "layer": [
        {"data": {"name": "curves"}, "transform": [{"filter": "datum.panel == 'LHC'"}],
         "mark": {"type": "line", "color": "#222222", "strokeWidth": 2, "interpolate": "monotone"},
         "encoding": {
           "x": {"field": "x", "type": "quantitative", "scale": {"domain": [-10, 10], "nice": false, "zero": false},
                 "axis": {"values": [-10,-9.5,-9,-8.5,-8,-7.5,-7,-6.5,-6,-5.5,-5,-4.5,-4,-3.5,-3,-2.5,-2,-1.5,-1,-0.5,0,0.5,1,1.5,2,2.5,3,3.5,4,4.5,5,5.5,6,6.5,7,7.5,8,8.5,9,9.5,10], "tickCount": 200, "labelOverlap": false, "labelExpr": "abs(datum.value % 2) < 0.01 ? toString(datum.value) : ''", "labelPadding": 10, "labelFlush": false, "tickWidth": 1.5, "tickSize": {"condition": {"test": "abs(datum.value % 2) < 0.01", "value": -6}, "value": -3},
                          "title": "y", "titleFontSize": 31, "titleFontWeight": "bold", "titleX": 230, "titleY": 43, "titleBaseline": "alphabetic", "titleAlign": "center"}},
           "y": {"field": "y", "type": "quantitative", "scale": {"domain": [0, 89], "nice": false},
                 "axis": {"values": [0,10,20,30,40,50,60,70,80], "tickCount": 200, "labelOverlap": false, "labelExpr": "datum.value % 20 == 0 ? toString(datum.value) : ''", "title": null, "labelPadding": 18, "tickSize": {"condition": {"test": "datum.value % 20 == 0", "value": -13}, "value": -8}}}
         }},
        {"data": {"name": "labels"}, "transform": [{"filter": "datum.panel == 'LHC'"}],
         "mark": {"type": "text", "align": "left", "baseline": "middle", "fontSize": 20, "color": "black"},
         "encoding": {"x": {"datum": -9.05, "type": "quantitative", "scale": {"domain": [-10, 10], "nice": false, "zero": false}}, "y": {"datum": 79.6, "type": "quantitative", "scale": {"domain": [0, 89], "nice": false}}, "text": {"field": "left"}}},
        {"data": {"name": "labels"}, "transform": [{"filter": "datum.panel == 'LHC'"}],
         "mark": {"type": "text", "align": "right", "baseline": "middle", "fontSize": 20, "color": "black"},
         "encoding": {"x": {"datum": 9.55, "type": "quantitative", "scale": {"domain": [-10, 10], "nice": false, "zero": false}}, "y": {"datum": 79.6, "type": "quantitative", "scale": {"domain": [0, 89], "nice": false}}, "text": {"field": "right"}}}
      ]
    }
  ]
}
